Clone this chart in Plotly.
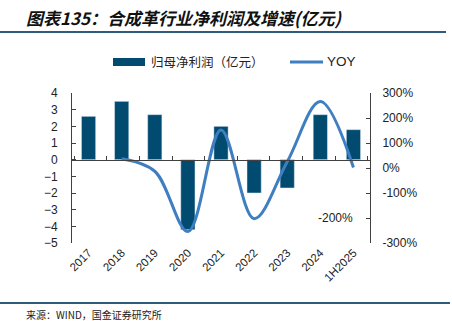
import plotly.graph_objects as go

categories = ["2017", "2018", "2019", "2020", "2021", "2022", "2023", "2024", "1H2025"]
net_profit = [2.6, 3.5, 2.7, -4.2, 2.0, -2.0, -1.7, 2.7, 1.8]
yoy = [None, 37, -13, -254, 152, -203, 25, 266, 2]
left_ticks = [4, 3, 2, 1, 0, -1, -2, -3, -4, -5]
right_ticks = [300, 200, 100, 0, -100, -200, -300]
right_labels = ["300%", "200%", "100%", "0%", "-100%", "", "-300%"]

BAR = "#004B6F"
LINE = "#3F7FC1"
AX = "#404040"
FONT = "Liberation Sans, Arial, Noto Sans CJK SC, sans-serif"
CJK = "Noto Sans CJK SC, sans-serif"

W, H = 452, 321
L, R, T, B = 72, 82, 93, 78
pw, ph = W - L - R, H - T - B


def px(x):
    return (x - L) / pw


def py(y):
    return (H - B - y) / ph


fig = go.Figure()
fig.add_trace(go.Bar(x=categories, y=net_profit, marker_color=BAR, width=0.43,
                     name="归母净利润（亿元）", showlegend=False))
fig.add_trace(go.Scatter(x=categories, y=yoy, yaxis="y2", mode="lines",
                         line=dict(color=LINE, width=3, shape="spline", smoothing=1.0),
                         name="YOY", showlegend=False, connectgaps=False))
fig.add_trace(go.Scatter(x=categories, y=net_profit, xaxis="x2", mode="markers",
                         marker=dict(opacity=0), hoverinfo="skip", showlegend=False))

fig.update_layout(
    width=W, height=H,
    margin=dict(l=L, r=R, t=T, b=B),
    plot_bgcolor="white", paper_bgcolor="white",
    showlegend=False,
    font=dict(family=FONT, size=12, color="#222"),
    xaxis=dict(type="category", categoryarray=categories, showline=False, ticks="",
               tickangle=-45, tickfont=dict(size=11.5, color="#222"), showgrid=False,
               zeroline=False),
    xaxis2=dict(type="category", categoryarray=categories, overlaying="x", anchor="free",
                position=5 / 9, side="bottom", showline=True, linecolor=AX, linewidth=1,
                ticks="inside", ticklen=4, tickcolor=AX, tickson="boundaries",
                showticklabels=False, showgrid=False, zeroline=False),
    yaxis=dict(range=[-5, 4], tickvals=left_ticks, showline=True, linecolor=AX,
               linewidth=1, ticks="inside", ticklen=4, tickcolor=AX, showgrid=False,
               zeroline=False, ticklabelstandoff=11, tickfont=dict(size=12, color="#222")),
    yaxis2=dict(range=[-300, 300], tickvals=right_ticks, ticktext=right_labels,
                overlaying="y", side="right", showline=True, linecolor=AX, linewidth=1,
                ticks="inside", ticklen=4, tickcolor=AX, showgrid=False, zeroline=False,
                ticklabelstandoff=9, tickfont=dict(size=12, color="#222")),
)

shapes = [
    dict(type="line", xref="paper", yref="paper", x0=px(0), x1=px(446), y0=py(32), y1=py(32),
         line=dict(color="#2E5C7A", width=2)),
    dict(type="line", xref="paper", yref="paper", x0=px(0), x1=px(450), y0=py(303), y1=py(303),
         line=dict(color="#2E5C7A", width=2)),
    dict(type="rect", xref="paper", yref="paper", x0=px(113), x1=px(145), y0=py(66), y1=py(58),
         fillcolor=BAR, line=dict(width=0)),
    dict(type="line", xref="paper", yref="paper", x0=px(290), x1=px(323), y0=py(62), y1=py(62),
         line=dict(color=LINE, width=3)),
]
fig.update_layout(shapes=shapes)

annotations = [
    dict(text="<b><i>图表135：合成革行业净利润及增速(亿元)</i></b>", xref="paper", yref="paper",
         x=px(24), y=py(17.5), xanchor="left", yanchor="middle", showarrow=False,
         font=dict(family=CJK, size=17, color="#111")),
    dict(text="归母净利润（亿元）", xref="paper", yref="paper", x=px(149), y=py(62),
         xanchor="left", yanchor="middle", showarrow=False,
         font=dict(family=CJK, size=12.5, color="#222")),
    dict(text="YOY", xref="paper", yref="paper", x=px(325), y=py(62),
         xanchor="left", yanchor="middle", showarrow=False,
         font=dict(family=FONT, size=13.5, color="#222")),
    dict(text="-200%", xref="paper", yref="y2", x=px(335), y=-200,
         xanchor="center", yanchor="middle", showarrow=False,
         font=dict(family=FONT, size=12, color="#222")),
    dict(text="来源：WIND，国金证券研究所", xref="paper", yref="paper", x=px(24), y=py(304.5),
         xanchor="left", yanchor="top", showarrow=False,
         font=dict(family=CJK, size=10, color="#222")),
]
fig.update_layout(annotations=annotations)

fig.write_html("out.html")
